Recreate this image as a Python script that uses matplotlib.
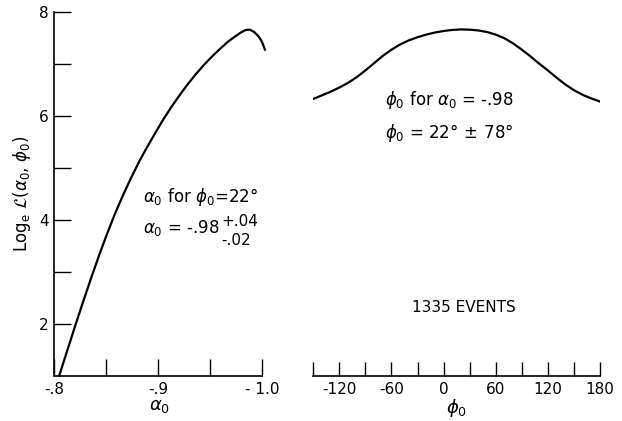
import matplotlib
matplotlib.use("Agg")
import matplotlib.pyplot as plt
from matplotlib.ticker import FixedLocator

plt.rcParams['font.family'] = ['DejaVu Sans']
plt.rcParams['mathtext.fontset'] = 'dejavusans'
plt.rcParams['axes.unicode_minus'] = False

# Left panel: log-likelihood vs alpha0 (phi0 = 22 deg)
alpha0 = [-0.8048, -0.8123, -0.8200, -0.8277, -0.8355, -0.8432, -0.8510,
          -0.8587, -0.8665, -0.8742, -0.8819, -0.8896, -0.8974, -0.9051,
          -0.9129, -0.9206, -0.9283, -0.9360, -0.9438, -0.9515, -0.9593,
          -0.9670, -0.9738, -0.9796, -0.9844, -0.9883, -0.9925, -0.9960,
          -0.9989, -1.0008, -1.0028]
logL_alpha = [1.00, 1.47, 1.95, 2.42, 2.88, 3.32, 3.74, 4.13, 4.49, 4.82,
              5.13, 5.41, 5.68, 5.94, 6.18, 6.40, 6.61, 6.80, 6.98, 7.14,
              7.29, 7.43, 7.53, 7.61, 7.66, 7.665, 7.62, 7.55, 7.47, 7.39,
              7.28]

# Right panel: log-likelihood vs phi0 (alpha0 = -.98)
phi0 = [-150, -140, -130, -120, -110, -100, -90, -80, -70, -60, -50, -40,
        -30, -20, -10, 0, 10, 20, 30, 40, 50, 60, 70, 80, 90, 100, 110, 120,
        130, 140, 150, 160, 170, 180]
logL_phi = [6.33, 6.40, 6.47, 6.55, 6.64, 6.75, 6.88, 7.02, 7.16, 7.28, 7.38,
            7.46, 7.52, 7.57, 7.61, 7.64, 7.66, 7.67, 7.665, 7.65, 7.62, 7.57,
            7.50, 7.40, 7.28, 7.15, 7.01, 6.88, 6.74, 6.61, 6.50, 6.41, 6.34,
            6.28]

alpha_ticks = [-0.8, -0.9, -1.0]
alpha_ticklabels = ['-.8', '-.9', '- 1.0']
alpha_minor = [-0.85, -0.95]
y_ticks = [2, 4, 6, 8]
y_minor = [3, 5, 7]
phi_ticks = [-120, -60, 0, 60, 120, 180]
phi_ticklabels = ['-120', '-60', '0', '60', '120', '180']
phi_minor = [-150, -90, -30, 30, 90, 150]

W, H = 622, 421
fig = plt.figure(figsize=(W / 100, H / 100), dpi=100)

y_top_px, y_bot_px = 12.3, 375.5
bottom = 1 - y_bot_px / H
height = (y_bot_px - y_top_px) / H

# ---- left axes
lx0, lx1 = 54.3, 262.0
ax1 = fig.add_axes([lx0 / W, bottom, (lx1 - lx0) / W * (1.0035 - 0.8) / 0.2, height])
ax1.plot(alpha0, logL_alpha, color='black', lw=1.6, clip_on=False,
         solid_joinstyle='round')
ax1.set_xlim(-0.8, -1.0035)
ax1.set_ylim(1, 8)
for s in ['top', 'right']:
    ax1.spines[s].set_visible(False)
ax1.spines['bottom'].set_bounds(-0.8, -1.0)
for s in ['left', 'bottom']:
    ax1.spines[s].set_linewidth(1.2)
ax1.xaxis.set_major_locator(FixedLocator(alpha_ticks))
ax1.xaxis.set_minor_locator(FixedLocator(alpha_minor))
ax1.set_xticklabels(alpha_ticklabels)
ax1.yaxis.set_major_locator(FixedLocator(y_ticks))
ax1.yaxis.set_minor_locator(FixedLocator(y_minor))
ax1.tick_params(axis='both', which='both', direction='in', length=12, width=1.0,
                labelsize=11)
ax1.tick_params(axis='x', which='major', pad=5)
ax1.tick_params(axis='y', which='major', pad=4)
ax1.set_xlabel(r'$\alpha_0$', fontsize=13, labelpad=0)
ax1.set_ylabel(r'Log$_\mathregular{e}$ $\mathcal{L}$($\alpha_0$, $\phi_0$)',
               fontsize=12, labelpad=4)

ax1.text(0.42, 0.491, r'$\alpha_0$ for $\phi_0$=22°', transform=ax1.transAxes,
         fontsize=12, ha='left', va='center')
t_a = ax1.text(0.42, 0.406, r'$\alpha_0$ = -.98', transform=ax1.transAxes,
               fontsize=12, ha='left', va='center')
ax1.annotate('+.04', xy=(1.0, 0.5), xycoords=t_a, xytext=(1, 5),
             textcoords='offset points', fontsize=11, ha='left', va='center')
ax1.annotate('-.02', xy=(1.0, 0.5), xycoords=t_a, xytext=(1, -9),
             textcoords='offset points', fontsize=11, ha='left', va='center')

# ---- right axes
rx0, rx1 = 313.3, 600.0
ax2 = fig.add_axes([rx0 / W, bottom, (rx1 - rx0) / W, height])
ax2.plot(phi0, logL_phi, color='black', lw=1.6, solid_joinstyle='round')
ax2.set_xlim(-150, 180)
ax2.set_ylim(1, 8)
for s in ['top', 'right', 'left']:
    ax2.spines[s].set_visible(False)
ax2.spines['bottom'].set_linewidth(1.2)
ax2.set_yticks([])
ax2.xaxis.set_major_locator(FixedLocator(phi_ticks))
ax2.xaxis.set_minor_locator(FixedLocator(phi_minor))
ax2.set_xticklabels(phi_ticklabels)
ax2.tick_params(axis='x', which='both', direction='in', length=10, width=1.0,
                labelsize=11, pad=5)
ax2.set_xlabel(r'$\phi_0$', fontsize=13, labelpad=0)

ax2.text(0.25, 0.758, r'$\phi_0$ for $\alpha_0$ = -.98', transform=ax2.transAxes,
         fontsize=12, ha='left', va='center')
ax2.text(0.25, 0.667, r'$\phi_0$ = 22°$\,\pm\,$78°', transform=ax2.transAxes,
         fontsize=12, ha='left', va='center')
ax2.text(0.526, 0.186, '1335 EVENTS', transform=ax2.transAxes,
         fontsize=11, ha='center', va='center')

fig.savefig('out.png', dpi=100)
